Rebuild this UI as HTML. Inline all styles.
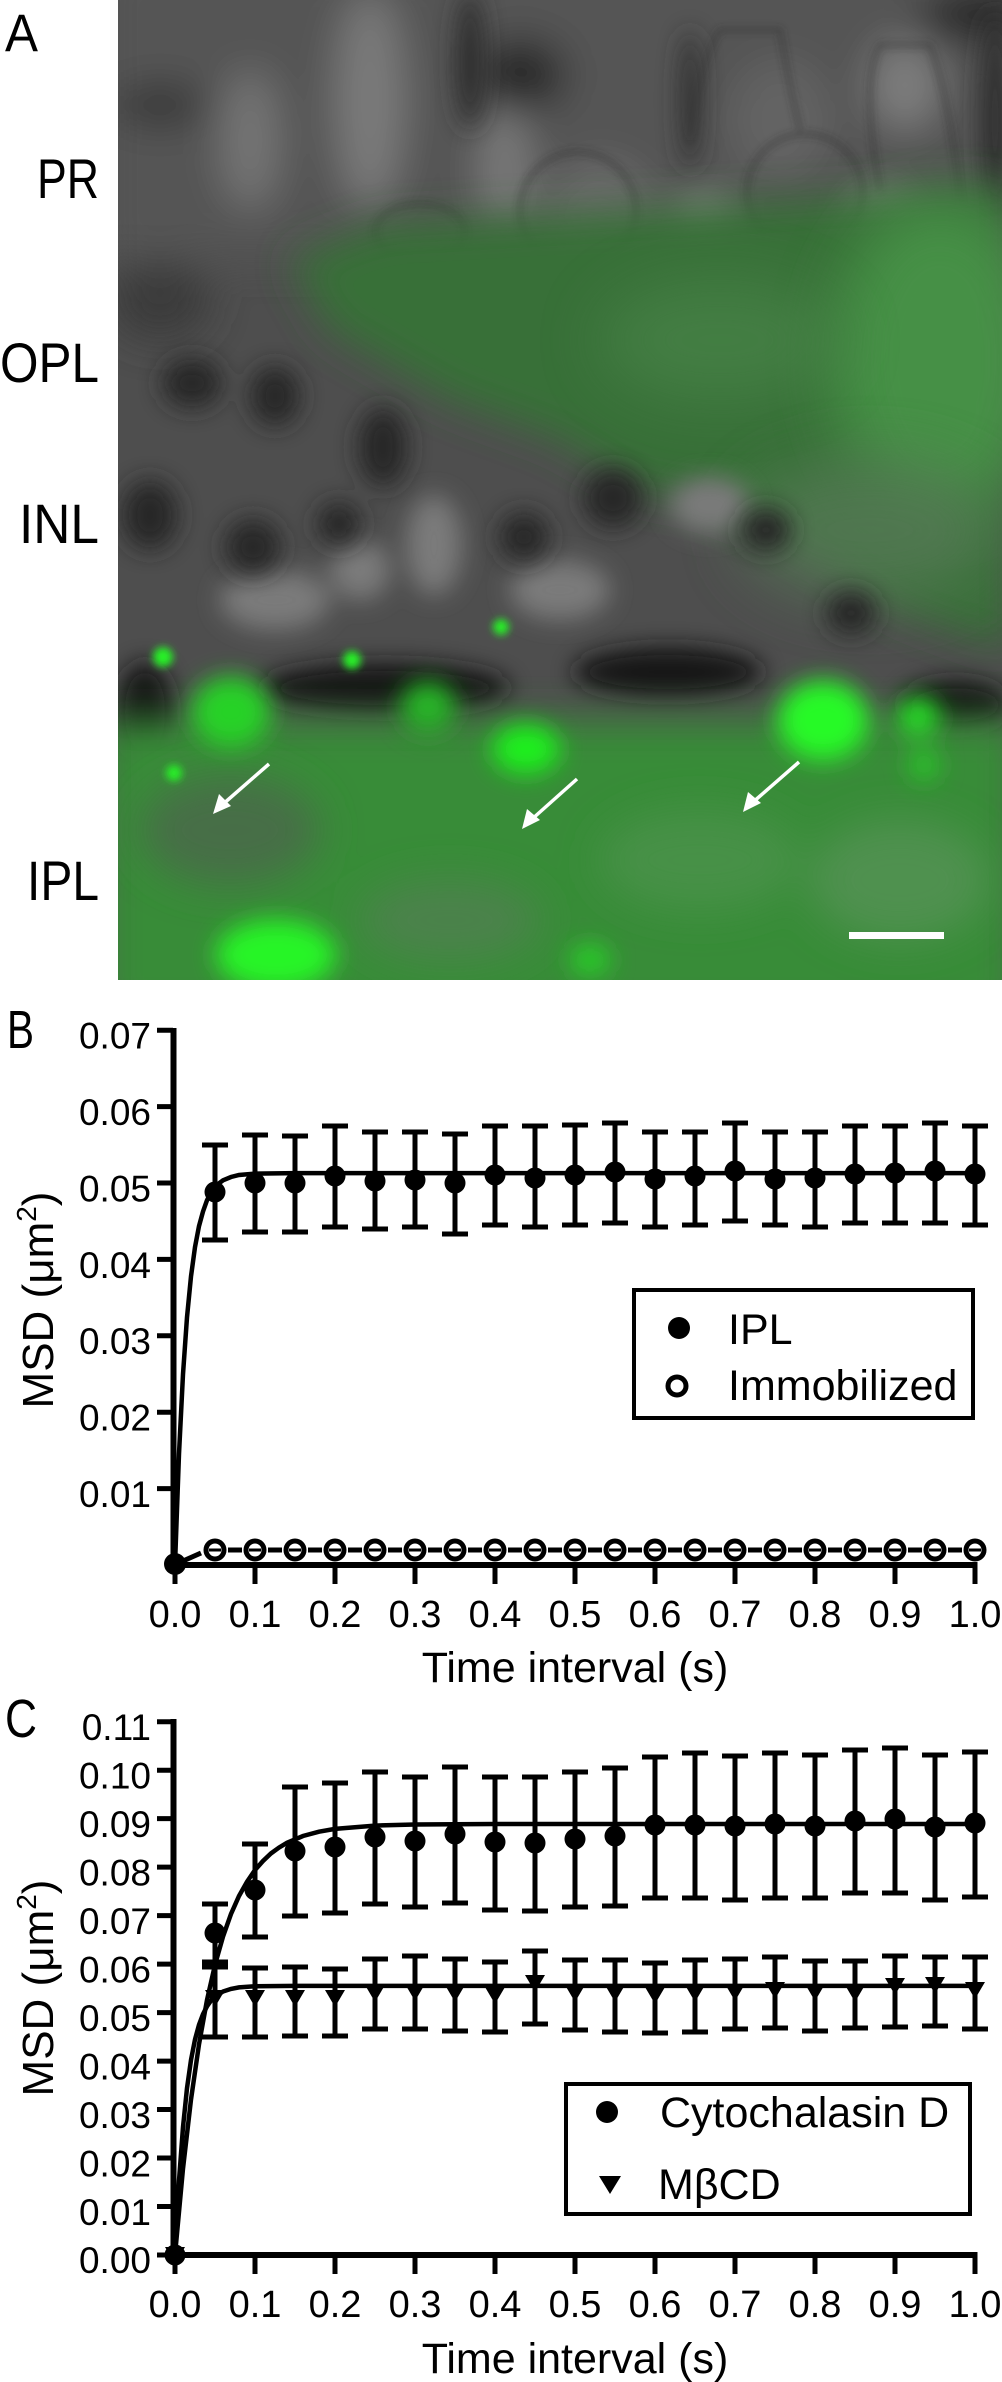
<!DOCTYPE html>
<html><head><meta charset="utf-8"><style>
html,body{margin:0;padding:0;background:#fff;}
svg{display:block;}
text{font-family:"Liberation Sans",Arial,sans-serif;fill:#000;}
</style></head><body>
<svg width="1002" height="2382" viewBox="0 0 1002 2382" xmlns="http://www.w3.org/2000/svg">
<defs>
<clipPath id="ic"><rect x="118" y="0" width="884" height="980"/></clipPath>
<filter id="b6" filterUnits="userSpaceOnUse" x="0" y="-100" width="1102" height="1200"><feGaussianBlur stdDeviation="4"/></filter>
<filter id="b12" filterUnits="userSpaceOnUse" x="0" y="-100" width="1102" height="1200"><feGaussianBlur stdDeviation="12"/></filter>
<filter id="b20" filterUnits="userSpaceOnUse" x="0" y="-100" width="1102" height="1200"><feGaussianBlur stdDeviation="20"/></filter>
<filter id="b30" filterUnits="userSpaceOnUse" x="0" y="-100" width="1102" height="1200"><feGaussianBlur stdDeviation="30"/></filter>
</defs>

<!-- ================= PANEL A ================= -->
<g clip-path="url(#ic)">
<rect x="118" y="0" width="884" height="980" fill="#4e4e4e"/>
<g filter="url(#b20)">
<rect x="100" y="-40" width="920" height="300" fill="#555555"/>
<ellipse cx="250" cy="140" rx="30" ry="70" fill="#747474"/>
<ellipse cx="370" cy="100" rx="35" ry="110" fill="#7a7a7a"/>
<ellipse cx="505" cy="170" rx="25" ry="70" fill="#7a7a7a"/>
<ellipse cx="705" cy="235" rx="30" ry="40" fill="#8a8a8a"/>
<ellipse cx="880" cy="230" rx="35" ry="40" fill="#858585"/>
<ellipse cx="905" cy="85" rx="35" ry="45" fill="#7e7e7e"/>
<ellipse cx="600" cy="220" rx="55" ry="60" fill="#6a6a6a"/>
<ellipse cx="780" cy="120" rx="50" ry="60" fill="#646464"/>
<ellipse cx="520" cy="75" rx="45" ry="35" fill="#262626"/>
<ellipse cx="980" cy="15" rx="60" ry="25" fill="#222222"/>
<ellipse cx="160" cy="105" rx="45" ry="18" fill="#2e2e2e"/>
<ellipse cx="160" cy="300" rx="50" ry="40" fill="#3a3a3a"/>
</g>
<g filter="url(#b6)" fill="none" stroke="#2a2a2a" stroke-width="3" opacity="0.7">
<circle cx="578" cy="210" r="58"/>
<circle cx="805" cy="192" r="58"/>
<ellipse cx="420" cy="232" rx="45" ry="28"/>
<path d="M690 140 Q700 60 720 30 L780 30 Q790 90 800 130"/>
<path d="M880 190 Q860 80 880 45 L930 45 Q950 100 960 200"/>
</g>
<g filter="url(#b12)" fill="#2e2e2e">
<ellipse cx="470" cy="60" rx="14" ry="70"/>
<ellipse cx="690" cy="100" rx="10" ry="70"/>
<ellipse cx="995" cy="120" rx="15" ry="110"/>
</g>
<!-- OPL green -->
<path filter="url(#b20)" fill="rgb(55,112,55)" d="M290 260 L380 225 L600 212 L800 200 L1010 185 L1010 650 L900 610 L800 540 L700 500 L640 490 L560 440 L450 400 L330 330 Z"/>
<ellipse filter="url(#b30)" cx="940" cy="360" rx="110" ry="160" fill="rgb(75,155,75)" opacity="0.75"/>
<ellipse filter="url(#b30)" cx="720" cy="340" rx="120" ry="60" fill="rgb(75,135,75)" opacity="0.6"/>
<ellipse filter="url(#b30)" cx="870" cy="530" rx="130" ry="70" fill="rgb(85,120,85)" opacity="0.8"/>
<!-- INL -->
<g filter="url(#b12)" fill="#7a7a7a">
<ellipse cx="434" cy="545" rx="28" ry="50"/>
<ellipse cx="710" cy="505" rx="40" ry="28"/>
<ellipse cx="275" cy="600" rx="55" ry="30"/>
<ellipse cx="560" cy="590" rx="50" ry="30"/>
<ellipse cx="360" cy="570" rx="30" ry="30"/>
</g>
<g filter="url(#b12)" fill="#262626">
<ellipse cx="192" cy="383" rx="30" ry="25"/>
<ellipse cx="275" cy="396" rx="25" ry="30"/>
<ellipse cx="383" cy="447" rx="25" ry="40"/>
<ellipse cx="253" cy="547" rx="28" ry="28"/>
<ellipse cx="339" cy="524" rx="22" ry="22"/>
<ellipse cx="150" cy="515" rx="28" ry="35"/>
<ellipse cx="524" cy="537" rx="25" ry="25"/>
<ellipse cx="613" cy="498" rx="30" ry="30"/>
<ellipse cx="766" cy="530" rx="25" ry="22"/>
<ellipse cx="851" cy="613" rx="25" ry="22"/>
</g>
<!-- dark band -->
<g filter="url(#b12)" fill="#161616">
<ellipse cx="145" cy="712" rx="28" ry="50"/>
<ellipse cx="385" cy="688" rx="125" ry="25"/>
<ellipse cx="668" cy="672" rx="95" ry="25"/>
<ellipse cx="955" cy="705" rx="55" ry="25"/>
</g>
<!-- IPL green -->
<rect filter="url(#b20)" x="100" y="720" width="920" height="300" fill="rgb(55,140,55)"/>
<g filter="url(#b20)">
<ellipse cx="230" cy="830" rx="90" ry="55" fill="rgb(70,110,70)"/>
<ellipse cx="450" cy="920" rx="90" ry="40" fill="rgb(75,130,75)"/>
<ellipse cx="700" cy="860" rx="100" ry="50" fill="rgb(70,145,70)"/>
<ellipse cx="900" cy="880" rx="90" ry="60" fill="rgb(80,145,80)"/>
</g>
<g filter="url(#b12)">
<ellipse cx="231" cy="712" rx="40" ry="36" fill="rgb(40,210,40)"/>
<ellipse cx="428" cy="707" rx="28" ry="26" fill="rgb(40,180,40)"/>
<ellipse cx="526" cy="749" rx="34" ry="25" fill="rgb(30,240,30)"/>
<ellipse cx="823" cy="720" rx="46" ry="40" fill="rgb(40,250,40)"/>
<ellipse cx="918" cy="717" rx="22" ry="20" fill="rgb(40,220,40)"/>
<ellipse cx="924" cy="765" rx="15" ry="15" fill="rgb(40,200,40)"/>
<ellipse cx="276" cy="955" rx="60" ry="35" fill="rgb(40,245,40)"/>
<ellipse cx="590" cy="960" rx="20" ry="15" fill="rgb(40,210,40)"/>
</g>
<g filter="url(#b6)" fill="rgb(40,240,40)">
<circle cx="163" cy="657" r="10"/>
<circle cx="352" cy="660" r="9"/>
<circle cx="501" cy="627" r="8"/>
<circle cx="174" cy="773" r="8"/>
</g>
<!-- arrows -->
<g stroke="#fff" stroke-width="3.5" fill="#fff">
<line x1="269" y1="764" x2="222" y2="805"/>
<path d="M213 814 L219 794 L231 806 Z" stroke="none"/>
<line x1="577" y1="779" x2="531" y2="820"/>
<path d="M522 829 L527 809 L540 820 Z" stroke="none"/>
<line x1="799" y1="762" x2="752" y2="803"/>
<path d="M743 812 L748 792 L761 803 Z" stroke="none"/>
</g>
<rect x="849" y="932" width="95" height="7" fill="#fff"/>
</g>
<text x="5" y="51" font-size="53" textLength="33" lengthAdjust="spacingAndGlyphs">A</text>
<text x="37" y="198" font-size="56" textLength="62" lengthAdjust="spacingAndGlyphs">PR</text>
<text x="0" y="382" font-size="56" textLength="99" lengthAdjust="spacingAndGlyphs">OPL</text>
<text x="19" y="543" font-size="56" textLength="80" lengthAdjust="spacingAndGlyphs">INL</text>
<text x="27" y="900" font-size="56" textLength="72" lengthAdjust="spacingAndGlyphs">IPL</text>

<!-- ================= PANEL B ================= -->
<text x="7" y="1048" font-size="54" textLength="27" lengthAdjust="spacingAndGlyphs">B</text>
<g stroke="#000" fill="none">
<path d="M173.5 1028 V1568 M170.5 1565 H977.5" stroke-width="6"/>
<path d="M157 1030.2h16M157 1106.6h16M157 1183h16M157 1259.4h16M157 1335.8h16M157 1412.2h16M157 1488.6h16" stroke-width="5"/>
<path d="M175 1565v19M255 1565v19M335 1565v19M415 1565v19M495 1565v19M575 1565v19M655 1565v19M735 1565v19M815 1565v19M895 1565v19M975 1565v19" stroke-width="5"/>
</g>
<g font-size="37" text-anchor="end">
<text x="151" y="1048.5">0.07</text>
<text x="151" y="1125">0.06</text>
<text x="151" y="1201.5">0.05</text>
<text x="151" y="1278">0.04</text>
<text x="151" y="1354">0.03</text>
<text x="151" y="1430.5">0.02</text>
<text x="151" y="1507">0.01</text>
</g>
<g font-size="38" text-anchor="middle">
<text x="175" y="1627">0.0</text><text x="255" y="1627">0.1</text><text x="335" y="1627">0.2</text><text x="415" y="1627">0.3</text><text x="495" y="1627">0.4</text><text x="575" y="1627">0.5</text><text x="655" y="1627">0.6</text><text x="735" y="1627">0.7</text><text x="815" y="1627">0.8</text><text x="895" y="1627">0.9</text><text x="975" y="1627">1.0</text>
</g>
<text x="575" y="1682" font-size="43" text-anchor="middle">Time interval (s)</text>
<text transform="translate(53,1300) rotate(-90)" font-size="44" text-anchor="middle">MSD (μm<tspan font-size="28" dy="-17">2</tspan><tspan dy="17">)</tspan></text>

<!-- Immobilized dashed + open circles -->
<g stroke="#000" stroke-width="5" fill="none">
<path d="M183 1561 L201 1553 M228 1550h14M268 1550h14M308 1550h14M348 1550h14M388 1550h14M428 1550h14M468 1550h14M508 1550h14M548 1550h14M588 1550h14M628 1550h14M668 1550h14M708 1550h14M748 1550h14M788 1550h14M828 1550h14M868 1550h14M908 1550h14M948 1550h14"/>
<g fill="#fff">
<circle cx="215" cy="1550" r="9"/><circle cx="255" cy="1550" r="9"/><circle cx="295" cy="1550" r="9"/><circle cx="335" cy="1550" r="9"/><circle cx="375" cy="1550" r="9"/><circle cx="415" cy="1550" r="9"/><circle cx="455" cy="1550" r="9"/><circle cx="495" cy="1550" r="9"/><circle cx="535" cy="1550" r="9"/><circle cx="575" cy="1550" r="9"/><circle cx="615" cy="1550" r="9"/><circle cx="655" cy="1550" r="9"/><circle cx="695" cy="1550" r="9"/><circle cx="735" cy="1550" r="9"/><circle cx="775" cy="1550" r="9"/><circle cx="815" cy="1550" r="9"/><circle cx="855" cy="1550" r="9"/><circle cx="895" cy="1550" r="9"/><circle cx="935" cy="1550" r="9"/><circle cx="975" cy="1550" r="9"/>
</g>
<path stroke-width="3" d="M209 1550h12M249 1550h12M289 1550h12M329 1550h12M369 1550h12M409 1550h12M449 1550h12M489 1550h12M529 1550h12M569 1550h12M609 1550h12M649 1550h12M689 1550h12M729 1550h12M769 1550h12M809 1550h12M849 1550h12M889 1550h12M929 1550h12M969 1550h12"/>
</g>
<!-- IPL fit -->
<path fill="none" stroke="#000" stroke-width="4.5" d="M175 1565 L179 1453.9 L183 1374.3 L187 1317.3 L191 1276.4 L195 1247.1 L199 1226.1 L203 1211.5 L207 1200.3 L211 1192.5 L215 1187.1 L219 1183.3 L223 1180.3 L231 1177 L239 1175 L255 1173.6 L295 1173.1 L975 1173.1"/>
<path fill="none" stroke="#000" stroke-width="5" d="M215 1145V1240M202 1145h26M202 1240h26M255 1135V1232M242 1135h26M242 1232h26M295 1136V1232M282 1136h26M282 1232h26M335 1126V1227M322 1126h26M322 1227h26M375 1132V1229M362 1132h26M362 1229h26M415 1132V1227M402 1132h26M402 1227h26M455 1134V1234M442 1134h26M442 1234h26M495 1126V1225M482 1126h26M482 1225h26M535 1126V1227M522 1126h26M522 1227h26M575 1125V1225M562 1125h26M562 1225h26M615 1123V1223M602 1123h26M602 1223h26M655 1132V1227M642 1132h26M642 1227h26M695 1132V1225M682 1132h26M682 1225h26M735 1123V1221M722 1123h26M722 1221h26M775 1132V1225M762 1132h26M762 1225h26M815 1132V1227M802 1132h26M802 1227h26M855 1126V1223M842 1126h26M842 1223h26M895 1126V1223M882 1126h26M882 1223h26M935 1123V1223M922 1123h26M922 1223h26M975 1126V1225M962 1126h26M962 1225h26"/>
<g fill="#000">
<circle cx="175" cy="1564" r="11"/>
<circle cx="215" cy="1192" r="10.5"/><circle cx="255" cy="1183" r="10.5"/><circle cx="295" cy="1183" r="10.5"/><circle cx="335" cy="1176" r="10.5"/><circle cx="375" cy="1181" r="10.5"/><circle cx="415" cy="1180" r="10.5"/><circle cx="455" cy="1183" r="10.5"/><circle cx="495" cy="1175" r="10.5"/><circle cx="535" cy="1178" r="10.5"/><circle cx="575" cy="1175" r="10.5"/><circle cx="615" cy="1172" r="10.5"/><circle cx="655" cy="1179" r="10.5"/><circle cx="695" cy="1176" r="10.5"/><circle cx="735" cy="1171" r="10.5"/><circle cx="775" cy="1179" r="10.5"/><circle cx="815" cy="1178" r="10.5"/><circle cx="855" cy="1174" r="10.5"/><circle cx="895" cy="1173" r="10.5"/><circle cx="935" cy="1171" r="10.5"/><circle cx="975" cy="1174" r="10.5"/>
</g>
<!-- legend B -->
<rect x="634" y="1290" width="339" height="128" fill="#fff" stroke="#000" stroke-width="4"/>
<circle cx="679" cy="1328" r="11" fill="#000"/>
<circle cx="677" cy="1386" r="9" fill="#fff" stroke="#000" stroke-width="5"/>
<text x="728" y="1344" font-size="43">IPL</text>
<text x="728" y="1400" font-size="43">Immobilized</text>

<!-- ================= PANEL C ================= -->
<text x="5" y="1737" font-size="54" textLength="32" lengthAdjust="spacingAndGlyphs">C</text>
<g stroke="#000" fill="none">
<path d="M173.5 1719 V2258 M170.5 2255 H977.5" stroke-width="6"/>
<path d="M157 1721.7h16M157 1770.2h16M157 1818.6h16M157 1867.1h16M157 1915.6h16M157 1964.1h16M157 2012.6h16M157 2061.1h16M157 2109.5h16M157 2158h16M157 2206.5h16M157 2255h16" stroke-width="5"/>
<path d="M175 2255v19M255 2255v19M335 2255v19M415 2255v19M495 2255v19M575 2255v19M655 2255v19M735 2255v19M815 2255v19M895 2255v19M975 2255v19" stroke-width="5"/>
</g>
<g font-size="37" text-anchor="end">
<text x="151" y="1740">0.11</text>
<text x="151" y="1788.5">0.10</text>
<text x="151" y="1837">0.09</text>
<text x="151" y="1885.5">0.08</text>
<text x="151" y="1934">0.07</text>
<text x="151" y="1982.5">0.06</text>
<text x="151" y="2031">0.05</text>
<text x="151" y="2079.5">0.04</text>
<text x="151" y="2128">0.03</text>
<text x="151" y="2176.5">0.02</text>
<text x="151" y="2225">0.01</text>
<text x="151" y="2273">0.00</text>
</g>
<g font-size="38" text-anchor="middle">
<text x="175" y="2317">0.0</text><text x="255" y="2317">0.1</text><text x="335" y="2317">0.2</text><text x="415" y="2317">0.3</text><text x="495" y="2317">0.4</text><text x="575" y="2317">0.5</text><text x="655" y="2317">0.6</text><text x="735" y="2317">0.7</text><text x="815" y="2317">0.8</text><text x="895" y="2317">0.9</text><text x="975" y="2317">1.0</text>
</g>
<text x="575" y="2373" font-size="43" text-anchor="middle">Time interval (s)</text>
<text transform="translate(53,1988) rotate(-90)" font-size="44" text-anchor="middle">MSD (μm<tspan font-size="28" dy="-17">2</tspan><tspan dy="17">)</tspan></text>

<!-- fits -->
<g fill="none" stroke="#000" stroke-width="4.5">
<path d="M175 2255 L183 2168.6 L191 2099.5 L199 2044.3 L207 2000.1 L215 1964.8 L223 1936.6 L231 1914 L239 1896 L247 1881.8 L255 1870 L263 1861 L271 1853.4 L279 1847.6 L287 1842.8 L303 1836 L319 1831.7 L335 1828.9 L375 1825.6 L415 1824.5 L495 1824 L975 1824"/>
<path d="M175 2255 L179 2180.8 L183 2127.1 L187 2088.2 L191 2060 L195 2039.5 L199 2024.8 L203 2014.2 L207 2006.3 L211 2000.6 L215 1996.6 L223 1991.5 L231 1988.9 L239 1987.4 L255 1986.3 L295 1985.9 L975 1985.9"/>
</g>
<!-- cyto error bars -->
<path fill="none" stroke="#000" stroke-width="5" d="M215 1904V1962M202 1904h26M202 1962h26M255 1844V1937M242 1844h26M242 1937h26M295 1787V1916M282 1787h26M282 1916h26M335 1783V1913M322 1783h26M322 1913h26M375 1772V1904M362 1772h26M362 1904h26M415 1777V1907M402 1777h26M402 1907h26M455 1767V1903M442 1767h26M442 1903h26M495 1777V1910M482 1777h26M482 1910h26M535 1777V1911M522 1777h26M522 1911h26M575 1772V1907M562 1772h26M562 1907h26M615 1768V1906M602 1768h26M602 1906h26M655 1757V1898M642 1757h26M642 1898h26M695 1753V1898M682 1753h26M682 1898h26M735 1756V1900M722 1756h26M722 1900h26M775 1753V1898M762 1753h26M762 1898h26M815 1755V1898M802 1755h26M802 1898h26M855 1750V1893M842 1750h26M842 1893h26M895 1748V1893M882 1748h26M882 1893h26M935 1755V1900M922 1755h26M922 1900h26M975 1752V1897M962 1752h26M962 1897h26"/>
<!-- MbCD error bars -->
<path fill="none" stroke="#000" stroke-width="5" d="M215 1967V2037M202 1967h26M202 2037h26M255 1968V2037M242 1968h26M242 2037h26M295 1967V2036M282 1967h26M282 2036h26M335 1969V2036M322 1969h26M322 2036h26M375 1959V2029M362 1959h26M362 2029h26M415 1956V2029M402 1956h26M402 2029h26M455 1959V2031M442 1959h26M442 2031h26M495 1962V2032M482 1962h26M482 2032h26M535 1951V2024M522 1951h26M522 2024h26M575 1960V2030M562 1960h26M562 2030h26M615 1960V2032M602 1960h26M602 2032h26M655 1963V2033M642 1963h26M642 2033h26M695 1960V2032M682 1960h26M682 2032h26M735 1959V2029M722 1959h26M722 2029h26M775 1957V2028M762 1957h26M762 2028h26M815 1961V2031M802 1961h26M802 2031h26M855 1961V2028M842 1961h26M842 2028h26M895 1956V2027M882 1956h26M882 2027h26M935 1957V2026M922 1957h26M922 2026h26M975 1957V2029M962 1957h26M962 2029h26"/>
<g fill="#000">
<circle cx="175" cy="2255" r="10.5"/>
<circle cx="215" cy="1933" r="10.5"/><circle cx="255" cy="1890" r="10.5"/><circle cx="295" cy="1851" r="10.5"/><circle cx="335" cy="1847" r="10.5"/><circle cx="375" cy="1837" r="10.5"/><circle cx="415" cy="1841" r="10.5"/><circle cx="455" cy="1834" r="10.5"/><circle cx="495" cy="1842" r="10.5"/><circle cx="535" cy="1843" r="10.5"/><circle cx="575" cy="1839" r="10.5"/><circle cx="615" cy="1836" r="10.5"/><circle cx="655" cy="1825" r="10.5"/><circle cx="695" cy="1825" r="10.5"/><circle cx="735" cy="1826" r="10.5"/><circle cx="775" cy="1824" r="10.5"/><circle cx="815" cy="1826" r="10.5"/><circle cx="855" cy="1821" r="10.5"/><circle cx="895" cy="1819" r="10.5"/><circle cx="935" cy="1827" r="10.5"/><circle cx="975" cy="1823" r="10.5"/>
<path d="M165 2247h20l-10 17z M205 1990h20l-10 17z M245 1990h20l-10 17z M285 1990h20l-10 17z M325 1990h20l-10 17z M365 1985h20l-10 17z M405 1984h20l-10 17z M445 1985h20l-10 17z M485 1987h20l-10 17z M525 1975h20l-10 17z M565 1985h20l-10 17z M605 1985h20l-10 17z M645 1987h20l-10 17z M685 1985h20l-10 17z M725 1984h20l-10 17z M765 1982h20l-10 17z M805 1984h20l-10 17z M845 1985h20l-10 17z M885 1978h20l-10 17z M925 1977h20l-10 17z M965 1982h20l-10 17z"/>
</g>
<!-- legend C -->
<rect x="566" y="2084" width="404" height="130" fill="#fff" stroke="#000" stroke-width="4"/>
<circle cx="607" cy="2112" r="11" fill="#000"/>
<path d="M599 2176h22l-11 18z" fill="#000"/>
<text x="660" y="2127" font-size="43">Cytochalasin D</text>
<text x="658" y="2199" font-size="43">MβCD</text>
</svg>
</body></html>
